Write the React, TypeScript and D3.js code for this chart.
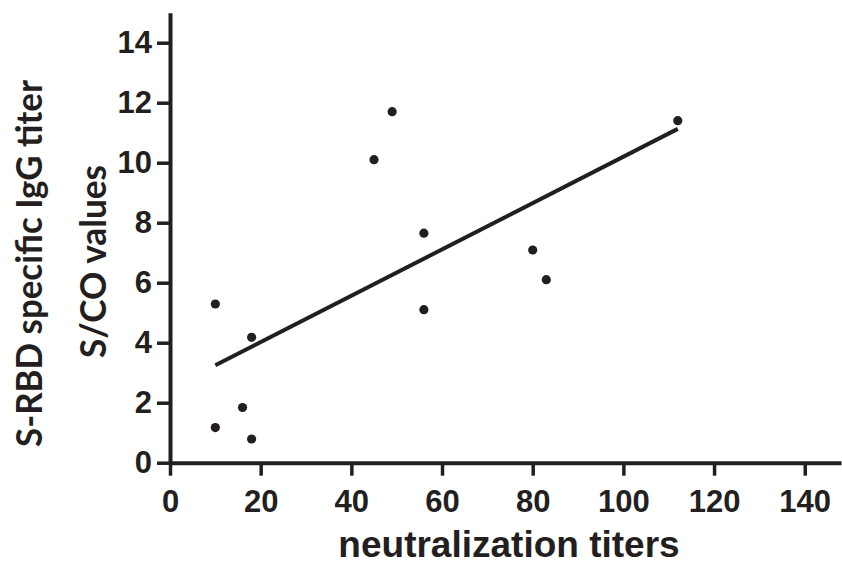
import React, { useEffect, useRef } from "react";
import * as d3 from "d3";

// neutralization titers (x) vs S-RBD IgG S/CO values (y)
const neutTiters = [10, 10, 16, 18, 18, 45, 49, 56, 56, 80, 83, 112];
const iggValues = [5.29, 1.17, 1.84, 4.18, 0.79, 10.1, 11.7, 7.65, 5.1, 7.09, 6.1, 11.4];
const xTicks = [0, 20, 40, 60, 80, 100, 120, 140];
const yTicks = [0, 2, 4, 6, 8, 10, 12, 14];

const ink = "#231f20";

const App = () => {
  const ref = useRef<SVGSVGElement>(null);

  useEffect(() => {
    const svg = d3.select(ref.current).attr("width", 842).attr("height", 571);
    svg.selectAll("*").remove();

    const x = d3.scaleLinear().domain([0, 148]).range([170, 841]);
    const y = d3.scaleLinear().domain([0, 15]).range([462.7, 12.7]);

    const points = neutTiters.map((t, i) => ({ x: t, y: iggValues[i] }));

    // least squares fit
    const mx = d3.mean(points, (d) => d.x) as number;
    const my = d3.mean(points, (d) => d.y) as number;
    const sxy = d3.sum(points, (d) => (d.x - mx) * (d.y - my));
    const sxx = d3.sum(points, (d) => (d.x - mx) ** 2);
    const slope = sxy / sxx;
    const icpt = my - slope * mx;
    const [x0, x1] = d3.extent(neutTiters) as [number, number];

    const xAxis = svg
      .append("g")
      .attr("transform", `translate(0,${y(0)})`)
      .call(d3.axisBottom(x).tickValues(xTicks).tickSize(13).tickSizeOuter(0).tickPadding(14));

    const yAxis = svg
      .append("g")
      .attr("transform", `translate(${x(0)},0)`)
      .call(d3.axisLeft(y).tickValues(yTicks).tickSize(13).tickSizeOuter(0).tickPadding(5));

    [xAxis, yAxis].forEach((g) => {
      g.select(".domain").attr("stroke", ink).attr("stroke-width", 4);
      g.selectAll(".tick line").attr("stroke", ink).attr("stroke-width", 3.5);
      g.selectAll(".tick text")
        .attr("fill", ink)
        .style("font-family", "'Liberation Sans', Arial, sans-serif")
        .style("font-weight", "bold")
        .style("font-size", "31px");
    });

    svg
      .append("line")
      .attr("x1", x(x0))
      .attr("y1", y(icpt + slope * x0))
      .attr("x2", x(x1))
      .attr("y2", y(icpt + slope * x1))
      .attr("stroke", ink)
      .attr("stroke-width", 4);

    svg
      .append("g")
      .selectAll("circle")
      .data(points)
      .join("circle")
      .attr("cx", (d) => x(d.x))
      .attr("cy", (d) => y(d.y))
      .attr("r", 4.6)
      .attr("fill", ink);

    svg
      .append("text")
      .attr("x", 509)
      .attr("y", 557)
      .attr("text-anchor", "middle")
      .attr("fill", ink)
      .style("font-family", "'Liberation Sans', Arial, sans-serif")
      .style("font-weight", "bold")
      .style("font-size", "37px")
      .text("neutralization titers");

    // y axis titles, two lines
    const titles = [
      { text: "S-RBD specific IgG titer", bx: 42, cy: 263.5, len: 367 },
      { text: "S/CO values", bx: 106, cy: 261.5, len: 193 },
    ];
    svg
      .append("g")
      .selectAll("text")
      .data(titles)
      .join("text")
      .attr("transform", (d) => `translate(${d.bx},${d.cy}) rotate(-90)`)
      .attr("text-anchor", "middle")
      .attr("fill", ink)
      .attr("textLength", (d) => d.len)
      .attr("lengthAdjust", "spacingAndGlyphs")
      .style("font-family", "Lato, 'Open Sans', sans-serif")
      .style("font-weight", "bold")
      .style("font-size", "36px")
      .text((d) => d.text);
  }, []);

  return <svg ref={ref} style={{ position: "absolute", left: 0, top: 0 }}></svg>;
};

export default App;
